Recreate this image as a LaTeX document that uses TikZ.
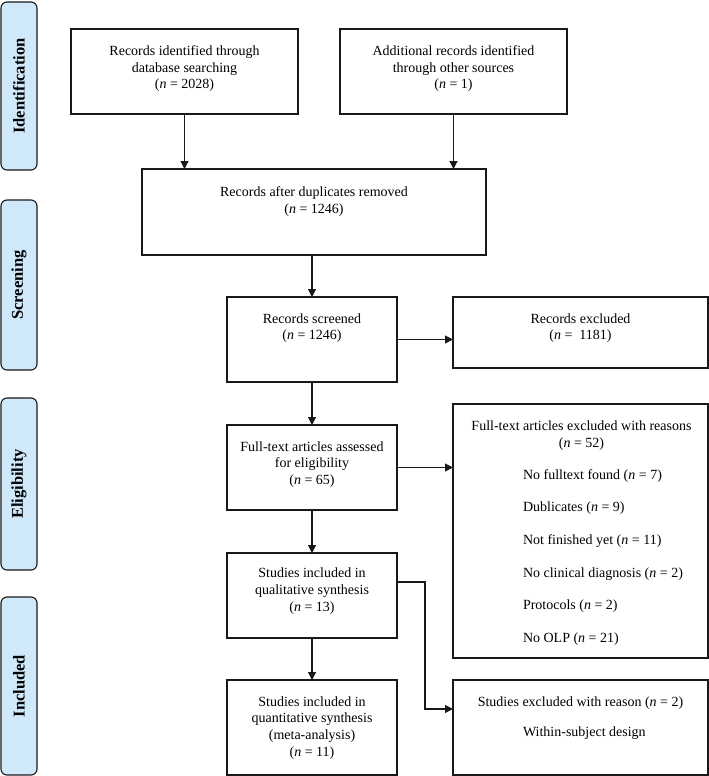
\documentclass[tikz,border=0pt]{standalone}
\usepackage{fontspec}
\setmainfont{Liberation Serif}
\usetikzlibrary{arrows.meta}
\definecolor{phasefill}{RGB}{207,233,251}
\definecolor{ink}{RGB}{25,25,25}
\begin{document}
\begin{tikzpicture}[x=1pt,y=-1pt,
  box/.style={draw=ink, line width=1.1pt, inner sep=0pt, outer sep=0pt, rectangle},
  txt/.style={inner sep=0pt, outer sep=0pt, font=\fontsize{14}{16.7}\selectfont, align=center, text=black},
  items/.style={inner sep=0pt, outer sep=0pt, font=\fontsize{14}{32.7}\selectfont, align=left, text=black},
  phase/.style={draw=ink, fill=phasefill, rounded corners=6pt, line width=1.1pt, inner sep=0pt, minimum width=36pt},
  ptxt/.style={inner sep=0pt, font=\fontsize{16.5}{18}\selectfont\bfseries, rotate=90},
  arr/.style={draw=ink, line width=1.1pt, -{Triangle[length=8pt,width=8pt]}}]
\useasboundingbox (0,0) rectangle (709,776);

% phase labels
\node[phase, minimum height=168pt] (p1) at (19,86) {};
\node[ptxt] (p1t) at (p1.center) {Identification};
\node[phase, minimum height=170pt] (p2) at (19,285) {};
\node[ptxt] (p2t) at (p2.center) {Screening};
\node[phase, minimum height=172pt] (p3) at (19,484) {};
\node[ptxt] (p3t) at (p3.center) {Eligibility};
\node[phase, minimum height=178pt] (p4) at (19,686) {};
\node[ptxt] (p4t) at (p4.center) {Included};

% boxes
\node[box, minimum width=227pt, minimum height=85pt] (a) at (184.5,71.5) {};
\node[txt, anchor=north] (at) at ([yshift=-16.5pt]a.north) {Records identified through\\database searching\\(\textit{n} = 2028)};

\node[box, minimum width=227pt, minimum height=85pt] (b) at (453.5,71.5) {};
\node[txt, anchor=north] (bt) at ([yshift=-16.5pt]b.north) {Additional records identified\\through other sources\\(\textit{n} = 1)};

\node[box, minimum width=344pt, minimum height=86pt] (c) at (314,212) {};
\node[txt, anchor=north] (ct) at ([yshift=-17.5pt]c.north) {Records after duplicates removed\\(\textit{n} = 1246)};

\node[box, minimum width=170pt, minimum height=85pt] (d) at (312,339.5) {};
\node[txt, anchor=north] (dt) at ([yshift=-16.5pt]d.north) {Records screened\\(\textit{n} = 1246)};

\node[box, minimum width=255pt, minimum height=71pt] (e) at (580.5,332.5) {};
\node[txt, anchor=north] (et) at ([yshift=-16.5pt]e.north) {Records excluded\\(\textit{n} =\ \ 1181)};

\node[box, minimum width=170pt, minimum height=85pt] (f) at (312,467.5) {};
\node[txt, anchor=north] (ft) at ([yshift=-16.5pt]f.north) {Full-text articles assessed\\for eligibility\\(\textit{n} = 65)};

\node[box, minimum width=255pt, minimum height=254pt] (g) at (580.5,531) {};
\node[txt, anchor=north] (gt) at ([xshift=1pt,yshift=-17pt]g.north) {Full-text articles excluded with reasons\\(\textit{n} = 52)};
\node[items, anchor=north west] (gi) at ([xshift=70pt,yshift=-65.3pt]g.north west) {No fulltext found (\textit{n} = 7)\\Dublicates (\textit{n} = 9)\\Not finished yet (\textit{n} = 11)\\No clinical diagnosis (\textit{n} = 2)\\Protocols (\textit{n} = 2)\\No OLP (\textit{n} = 21)};

\node[box, minimum width=170pt, minimum height=85pt] (h) at (312,595.5) {};
\node[txt, anchor=north] (ht) at ([yshift=-15pt]h.north) {Studies included in\\qualitative synthesis\\(\textit{n} = 13)};

\node[box, minimum width=170pt, minimum height=95pt] (i) at (312,727.5) {};
\node[txt, anchor=north] (it) at ([yshift=-16.5pt]i.north) {Studies included in\\quantitative synthesis\\(meta-analysis)\\(\textit{n} = 11)};

\node[box, minimum width=255pt, minimum height=95pt] (j) at (580.5,727.5) {};
\node[txt, anchor=north] (jt) at ([yshift=-16.5pt]j.north) {Studies excluded with reason (\textit{n} = 2)};
\node[txt, anchor=north west] (jt2) at ([xshift=70pt,yshift=-47pt]j.north west) {Within-subject design};

% connectors
\draw[arr] (a.south) -- (a.south |- c.north);
\draw[arr] (b.south) -- (b.south |- c.north);
\draw[arr] (c.south) -- (c.south -| d.north) -- (d.north);
\draw[arr] (d.east) -- (d.east -| e.west);
\draw[arr] (d.south) -- (f.north);
\draw[arr] (f.east) -- (f.east -| g.west);
\draw[arr] (f.south) -- (h.north);
\draw[arr] (h.south) -- (i.north);
\draw[arr] ([yshift=13.5pt]h.east) -- ++(28,0) |- ([yshift=18.5pt]j.west);
\end{tikzpicture}
\end{document}
